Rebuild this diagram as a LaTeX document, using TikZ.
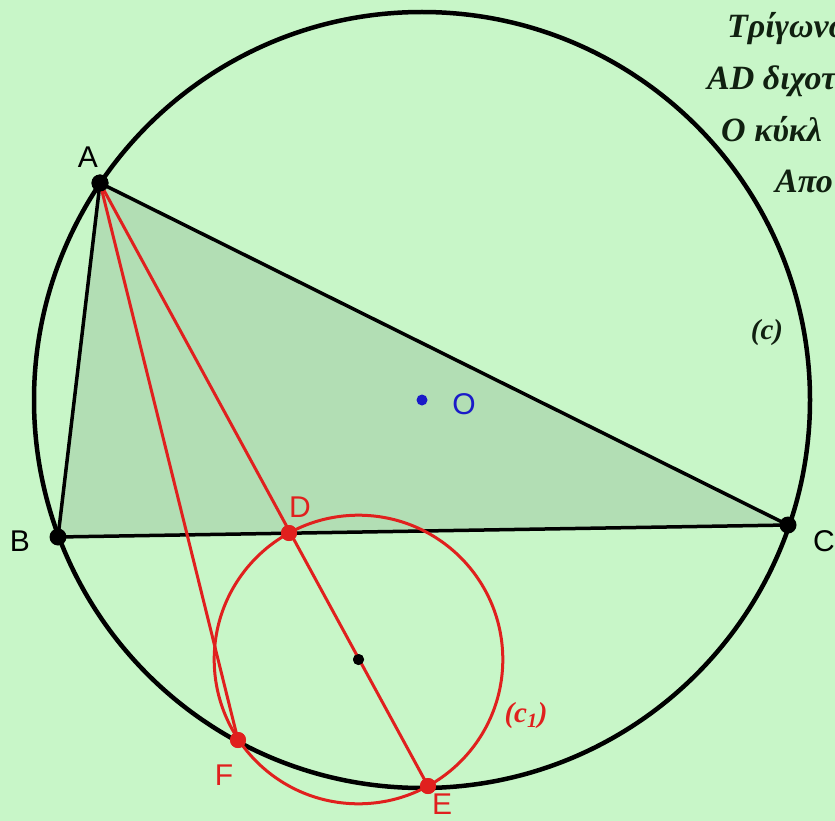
\documentclass[tikz,border=0pt]{standalone}
\usepackage{fontspec}
\setmainfont{Liberation Serif}
\newfontfamily\lsans{Liberation Sans}
\definecolor{bgc}{RGB}{200,246,200}
\definecolor{tric}{RGB}{178,222,180}
\definecolor{redc}{RGB}{224,32,30}
\definecolor{bluec}{RGB}{26,26,200}
\definecolor{txtc}{RGB}{16,32,16}
\begin{document}
\begin{tikzpicture}[x=1pt,y=-1pt,
  bdot/.style={circle,fill=black,inner sep=0pt,minimum size=17pt},
  rdot/.style={circle,fill=redc,inner sep=0pt,minimum size=16pt},
  sdot/.style={circle,fill=black,inner sep=0pt,minimum size=11pt},
  odot/.style={circle,fill=bluec,inner sep=0pt,minimum size=11pt},
  lab/.style={font=\lsans\fontsize{30}{30}\selectfont,inner sep=0pt},
  gtxt/.style={font=\bfseries\itshape\fontsize{34}{34}\selectfont,text=txtc,inner sep=0pt,anchor=base west},
  blk/.style={draw=black,line width=3.5pt,line join=round},
  rline/.style={draw=redc,line width=3pt}]
\useasboundingbox (0,0) rectangle (835,821);
\clip (0,0) rectangle (835,821);
\fill[bgc] (0,0) rectangle (835,821);
% points
\coordinate (Oc) at (422,400);
\coordinate (Ap) at (100,183);
\coordinate (Bp) at (58,537);
\coordinate (Cp) at (788,525);
\fill[tric] (Ap) -- (Bp) -- (Cp) -- cycle;
% circumcircle
\draw[black,line width=4.5pt] (Oc) circle[radius=388pt];
% triangle sides
\draw[blk] (Ap) -- (Bp) -- (Cp) -- cycle;
% small circle
\node[sdot] (M) at (358.5,659.5) {};
\draw[rline] (M.center) circle[radius=144.3pt];
% red points
\node[rdot] (D) at (289,533) {};
\node[rdot] (E) at (428,786) {};
\node[rdot] (F) at (238,740) {};
\node[bdot] (A) at (Ap) {};
\node[bdot] (B) at (Bp) {};
\node[bdot] (C) at (Cp) {};
\draw[rline] (A.center) -- (E.center);
\draw[rline] (A.center) -- (F.center);
\node[rdot] at (D.center) {};
\node[rdot] at (E.center) {};
\node[rdot] at (F.center) {};
\node[bdot] at (A.center) {};
\node[sdot] at (M.center) {};
\node[odot] (O) at (Oc) {};
% labels
\node[lab] (lA) at (88,157) {A};
\node[lab] (lB) at (20,541) {B};
\node[lab,anchor=west] (lC) at (813,541) {C};
\node[lab,text=redc] (lD) at (300,507) {D};
\node[lab,text=redc] (lE) at (442,804) {E};
\node[lab,text=redc] (lF) at (224,775) {F};
\node[lab,text=bluec] (lO) at (464,404) {O};
\node[font=\bfseries\itshape\fontsize{29}{29}\selectfont,text=txtc,inner sep=0pt] (lc) at (767,333) {(c)};
\node[font=\bfseries\itshape\fontsize{29}{29}\selectfont,text=redc,inner sep=0pt] (lc1) at (526,716) {(c\textsubscript{1})};
% text at top right
\node[gtxt] (t1) at (727,38) {Τρίγωνο};
\node[gtxt] (t2) at (707,90) {AD διχοτ};
\node[gtxt] (t3) at (721,142) {Ο κύκλ};
\node[gtxt] (t4) at (775,193) {Απο};
\end{tikzpicture}
\end{document}
